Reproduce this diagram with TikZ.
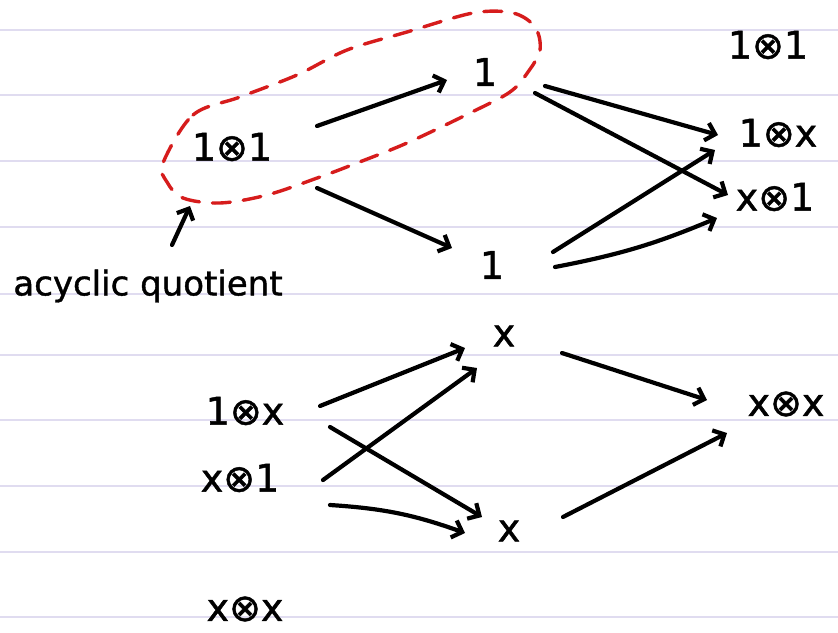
\documentclass[tikz,border=0pt]{standalone}
\usepackage{fontspec}
\setmainfont{DejaVu Sans}
\newfontfamily\handfont[FakeBold=1.2]{DejaVu Sans}
\usetikzlibrary{arrows.meta}
\begin{document}
\begin{tikzpicture}[x=1pt,y=-1pt,
  lbl/.style={font=\handfont\fontsize{38}{42}\selectfont, inner sep=0pt},
  note/.style={font=\handfont\fontsize{34}{40}\selectfont, inner sep=0pt},
  arr/.style={line width=4.2pt, line cap=round, -{Straight Barb[length=9pt,width=18pt]}},
  ruled/.style={draw={rgb,255:red,224;green,220;blue,240}, line width=1.6pt},
  redloop/.style={draw={rgb,255:red,214;green,28;blue,28}, line width=3.4pt, dash pattern=on 18pt off 13pt, line cap=round}]
\useasboundingbox (0,0) rectangle (838,632);
\fill[white] (0,0) rectangle (838,632);
\foreach \yy in {30,95,161,227,294,355,420,486,552,617}
  \draw[ruled] (0,\yy) -- (838,\yy);

% nodes
\node[lbl] (l11) at (232,147) {1⊗1};
\node[lbl] (t1)  at (485,72) {1};
\node[lbl] (b1)  at (492,265) {1};
\node[lbl] (r11) at (768,45) {1⊗1};
\node[lbl] (r1x) at (778,133) {1⊗x};
\node[lbl] (rx1) at (775,197) {x⊗1};
\node[note] (acq) at (148,286) {acyclic quotient};
\node[lbl] (xt)  at (504,336) {x};
\node[lbl] (l1x) at (245,411) {1⊗x};
\node[lbl] (lx1) at (240,478) {x⊗1};
\node[lbl] (xb)  at (509,531) {x};
\node[lbl] (rxx) at (786,404) {x⊗x};
\node[lbl] (bxx) at (245,609) {x⊗x};
\coordinate (loopb) at (190,206);

% red dashed loop
\draw[redloop] plot[smooth cycle, tension=0.55] coordinates {
  (163,163) (193,115) (240,97) (297,75) (347,50) (407,32) (473,13) (513,13)
  (535,27) (540,50) (528,72) (510,92) (470,113) (407,143) (357,163) (320,177)
  (267,195) (220,203) (183,198) (167,182)};

% upper arrows
\draw[arr] ([shift={(85,-21)}]l11.center) -- ([shift={(-38,8)}]t1.center);
\draw[arr] ([shift={(85,41)}]l11.center) -- ([shift={(-40,-17)}]b1.center);
\draw[arr] ([shift={(60,14)}]t1.center) -- ([shift={(-60,2)}]r1x.center);
\draw[arr] ([shift={(50,21)}]t1.center) -- ([shift={(-47,-2)}]rx1.center);
\draw[arr] ([shift={(61,-13)}]b1.center) -- ([shift={(-63,17)}]r1x.center);
\draw[arr] ([shift={(63,2)}]b1.center) to[bend right=6] ([shift={(-58,21)}]rx1.center);
\draw[arr] ([shift={(24,-41)}]acq.center) -- (loopb);

% lower arrows
\draw[arr] ([shift={(75,-5)}]l1x.center) -- ([shift={(-39,12)}]xt.center);
\draw[arr] ([shift={(85,16)}]l1x.center) -- ([shift={(-27,-14)}]xb.center);
\draw[arr] ([shift={(83,2)}]lx1.center) -- ([shift={(-27,32)}]xt.center);
\draw[arr] ([shift={(90,27)}]lx1.center) to[bend left=8] ([shift={(-44,2)}]xb.center);
\draw[arr] ([shift={(58,17)}]xt.center) -- ([shift={(-79,-4)}]rxx.center);
\draw[arr] ([shift={(54,-14)}]xb.center) -- ([shift={(-59,29)}]rxx.center);
\end{tikzpicture}
\end{document}
